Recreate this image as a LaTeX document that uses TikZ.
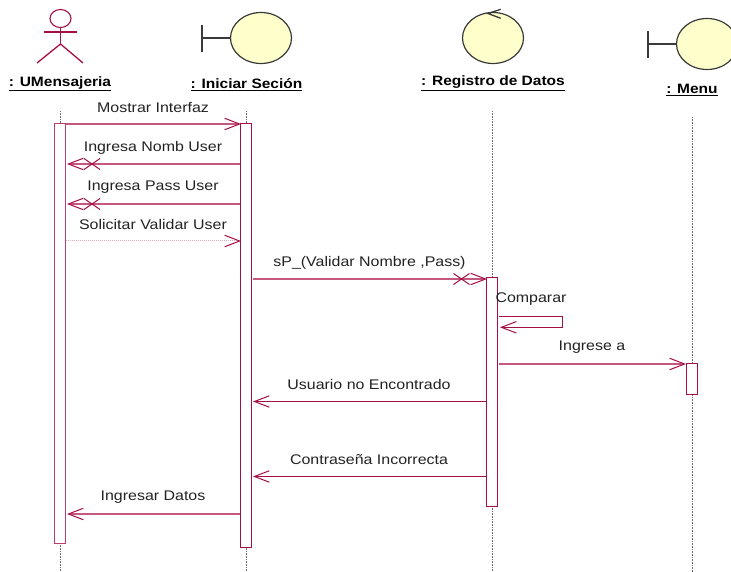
\documentclass[tikz,border=0pt]{standalone}
\usepackage{fontspec}
\setmainfont[FakeStretch=1.14]{Liberation Sans}
\usetikzlibrary{arrows.meta,calc,shapes.geometric}
\definecolor{dk}{HTML}{A50F46}
\definecolor{pl}{HTML}{C4587F}
\definecolor{mid}{HTML}{BC3E6A}
\definecolor{lt}{HTML}{E3A6BC}
\definecolor{ink}{HTML}{222222}
\definecolor{obj}{HTML}{FFFFCC}
\definecolor{edge}{HTML}{3A3A3A}
\definecolor{life}{HTML}{6E6E6E}
\tikzset{
  x=1pt,y=-1pt,
  lifeline/.style={draw=life,line width=1pt,dash pattern=on 1pt off 0.6pt},
  activation/.style={draw=#1,fill=white,line width=1pt,minimum width=11pt,inner sep=0pt,outer sep=0pt,anchor=north},
  activation/.default=dk,
  msg/.style={draw=dk,line width=1pt,-{Straight Barb[length=15pt,width=11.5pt,line width=1pt]}},
  pmsg/.style={draw=pl,line width=1.5pt,-{Straight Barb[length=15pt,width=11.5pt,line width=1pt,color=dk]}},
  rmsg/.style={draw=lt,line width=1pt,densely dotted,-{Straight Barb[length=15pt,width=11.5pt,line width=1pt,color=dk]}},
  lbl/.style={text=ink,font=\fontsize{14}{16}\selectfont,inner sep=0pt},
  ttl/.style={text=black,font=\fontsize{13.6}{16}\selectfont\bfseries,inner sep=0pt},
  cross/.style={draw=dk,line width=1pt},
  objshape/.style={draw=edge,fill=obj,line width=1.2pt},
  objline/.style={draw=edge,line width=1.3pt},
  actor/.style={draw=dk,line width=1.3pt},
}
\newcommand{\crossat}[1]{\draw[cross] ($(#1)+(-8,-5.5)$) -- ($(#1)+(8,5.5)$) ($(#1)+(-8,5.5)$) -- ($(#1)+(8,-5.5)$);}
\begin{document}
\begin{tikzpicture}
\useasboundingbox (0,0) rectangle (731,572);
\clip (0,0) rectangle (731,572);
% lifelines
\coordinate (l1t) at (60,111);   \coordinate (l1b) at (60,572);
\coordinate (l2t) at (246.5,111);\coordinate (l2b) at (246.5,572);
\coordinate (l3t) at (492.5,111);\coordinate (l3b) at (492.5,572);
\coordinate (l4t) at (692,117);  \coordinate (l4b) at (692,572);
\draw[lifeline] (l1t) -- (l1b);
\draw[lifeline] (l2t) -- (l2b);
\draw[lifeline] (l3t) -- (l3b);
\draw[lifeline] (l4t) -- (l4b);
% activations
\node[activation=mid,minimum height=420pt] (a1) at (60,123.5) {};
\node[activation,minimum height=423pt] (a2) at (246,124) {};
\node[activation,minimum height=229pt] (a3) at (492,277.5) {};
\node[activation,minimum height=31pt] (a4) at (692,363.5) {};
% actor
\node[draw=dk,line width=1.1pt,ellipse,minimum width=21pt,minimum height=18pt,inner sep=0pt] (head) at (60.5,18.5) {};
\coordinate (hip) at (60.5,44);
\coordinate (armL) at (44,32);\coordinate (armR) at (77,32);
\coordinate (legL) at (37,63);\coordinate (legR) at (83,63);
\draw[actor] (head.south) -- (hip);
\draw[actor] (armL) -- (armR);
\draw[actor] (legL) -- (hip) -- (legR);
% boundary: Iniciar
\node[objshape,ellipse,minimum width=61pt,minimum height=51pt,inner sep=0pt] (o2) at (261,38) {};
\coordinate (b2a) at (202,25);\coordinate (b2b) at (202,52);\coordinate (b2c) at (202,38);
\draw[objline] (b2a) -- (b2b);
\draw[objline] (b2c) -- (o2.west);
% control: Registro
\node[objshape,ellipse,minimum width=61pt,minimum height=51pt,inner sep=0pt] (o3) at (493,38) {};
\coordinate (c1) at (500.7,9.3);\coordinate (c2) at (488,13.5);\coordinate (c3) at (500.7,18.3);
\draw[objline] (c1) -- (c2) -- (c3);
% boundary: Menu
\node[objshape,ellipse,minimum width=61pt,minimum height=51pt,inner sep=0pt] (o4) at (707,44) {};
\coordinate (b4a) at (648,31);\coordinate (b4b) at (648,58);\coordinate (b4c) at (648,44);
\draw[objline] (b4a) -- (b4b);
\draw[objline] (b4c) -- (o4.west);
% titles
\node[ttl] (t1) at (60,83.5) {\underline{: UMensajeria}};
\node[ttl] (t2) at (246.5,84.5) {\underline{: Iniciar Seción}};
\node[ttl] (t3) at (493,83.5) {\underline{: Registro de Datos}};
\node[ttl] (t4) at (692,90) {\underline{: Menu}};
% messages
\coordinate (m1a) at (66,124);    \coordinate (m1b) at (241,124);
\coordinate (m2a) at (240,164);   \coordinate (m2b) at (67,164);   \coordinate (x2) at (92,164);
\coordinate (m3a) at (240,204);   \coordinate (m3b) at (67,204);   \coordinate (x3) at (92,204);
\coordinate (m4a) at (66,241);    \coordinate (m4b) at (241,241);
\coordinate (m5a) at (253,279);   \coordinate (m5b) at (487,279);  \coordinate (x5) at (461.5,279);
\coordinate (s1) at (499,316.7);  \coordinate (s2) at (562.5,316.7);\coordinate (s3) at (562.5,327.3);\coordinate (s4) at (500,327.3);
\coordinate (m6a) at (499,364);   \coordinate (m6b) at (686,364);
\coordinate (m7a) at (487,401.5); \coordinate (m7b) at (253,401.5);
\coordinate (m8a) at (487,476.5); \coordinate (m8b) at (253,476.5);
\coordinate (m9a) at (240,514);   \coordinate (m9b) at (67,514);
\draw[pmsg] (m1a) -- (m1b);
\draw[pmsg] (m2a) -- (m2b); \crossat{x2}
\draw[pmsg] (m3a) -- (m3b); \crossat{x3}
\draw[rmsg] (m4a) -- (m4b);
\draw[pmsg] (m5a) -- (m5b); \crossat{x5}
\draw[msg] (s1) -- (s2) -- (s3) -- (s4);
\draw[pmsg] (m6a) -- (m6b);
\draw[msg] (m7a) -- (m7b);
\draw[msg] (m8a) -- (m8b);
\draw[pmsg] (m9a) -- (m9b);
% labels
\node[lbl] (n1) at (153,107.5) {Mostrar Interfaz};
\node[lbl] (n2) at (153,147.5) {Ingresa Nomb User};
\node[lbl] (n3) at (153,187.5) {Ingresa Pass User};
\node[lbl] (n4) at (153,224.5) {Solicitar Validar User};
\node[lbl] (n5) at (369.5,262.5) {sP\_(Validar Nombre ,Pass)};
\node[lbl] (n6) at (531,299.5) {Comparar};
\node[lbl] (n7) at (592,347.5) {Ingrese a};
\node[lbl] (n8) at (369,384.5) {Usuario no Encontrado};
\node[lbl] (n9) at (369,459.5) {Contraseña Incorrecta};
\node[lbl] (n10) at (153,497.5) {Ingresar Datos};
\end{tikzpicture}
\end{document}
